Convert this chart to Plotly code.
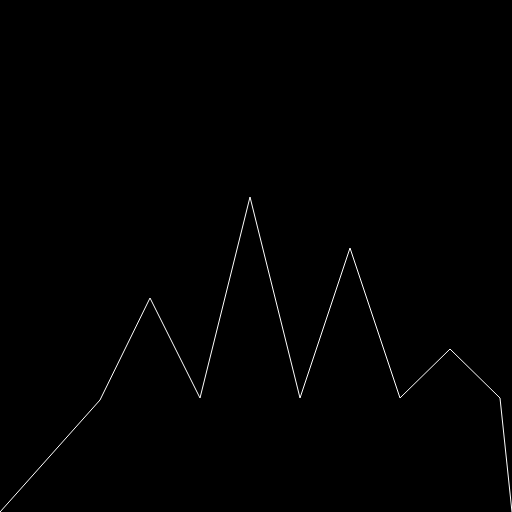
import plotly.graph_objects as go

# polyline vertices, in canvas pixels (y measured from the top)
x_vals = [0, 100, 150, 200, 250, 300, 350, 400, 450, 500, 512]
y_vals = [512, 400, 298, 398, 197, 398, 248, 398, 349, 398, 512]

fig = go.Figure(
    go.Scatter(
        x=x_vals,
        y=y_vals,
        mode="lines",
        line=dict(color="white", width=1),
        hoverinfo="skip",
        cliponaxis=False,
    )
)

fig.update_layout(
    width=512,
    height=512,
    margin=dict(l=0, r=0, t=0, b=0),
    paper_bgcolor="black",
    plot_bgcolor="black",
    showlegend=False,
)
fig.update_xaxes(range=[0, 512], visible=False)
fig.update_yaxes(range=[512, 0], visible=False)

# drop the page margin so the black canvas fills the window
fig.write_html(
    "out.html",
    config={"displayModeBar": False},
    post_script="document.body.style.margin='0';document.body.style.overflow='hidden';"
                "document.body.style.background='black';",
)
